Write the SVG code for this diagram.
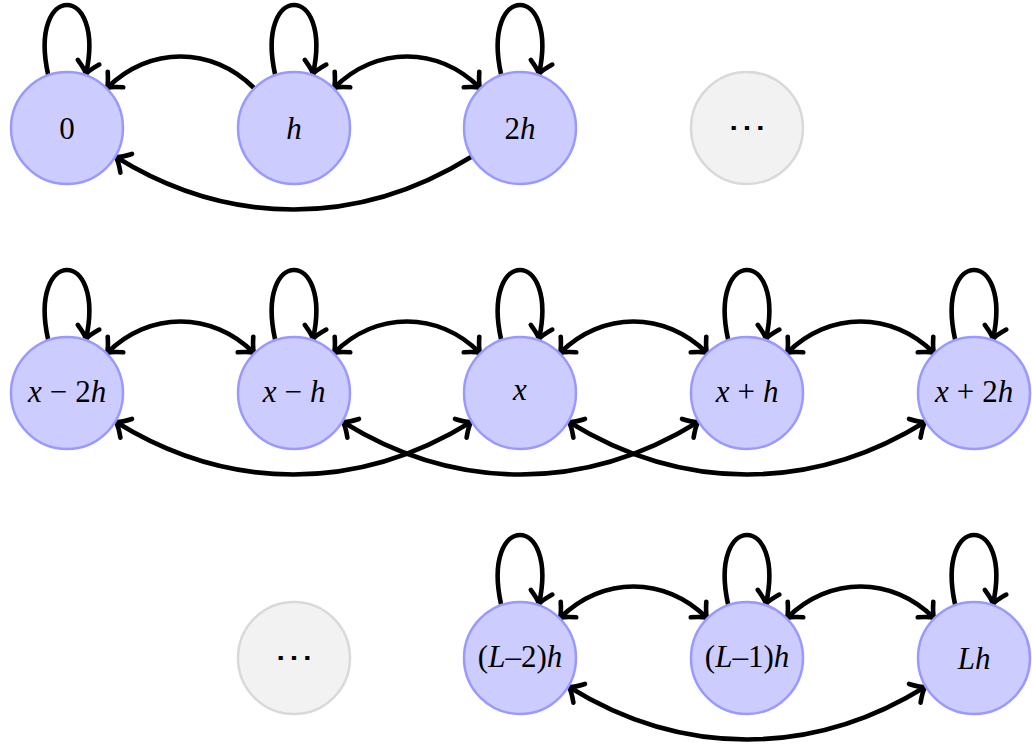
<svg xmlns="http://www.w3.org/2000/svg" width="1032" height="746" viewBox="0 0 1032 746">
<style>
.node{fill:#ccccff;stroke:#9999ff;stroke-width:2.5}
.gray{fill:#f2f2f2;stroke:#d9d9d9;stroke-width:2.5}
.lbl{font-family:"Liberation Serif","Times New Roman",serif;font-size:31px;fill:#000;text-anchor:middle}
.it{font-style:italic}
.dots{font-family:"DejaVu Serif",serif;font-size:32px;fill:#000;text-anchor:middle}
.e{fill:none;stroke:#000;stroke-width:4.6;stroke-linecap:round}
.one{marker-end:url(#arr)}
.two{marker-end:url(#arr);marker-start:url(#arr)}
</style>
<defs>
<marker id="arr" markerUnits="userSpaceOnUse" viewBox="-16 -16 20 32" refX="0" refY="0" markerWidth="20" markerHeight="32" orient="auto-start-reverse" overflow="visible">
<path d="M -12,-11 Q -4,-2 0,0 Q -4,2 -12,11" fill="none" stroke="#000" stroke-width="4.6" stroke-linecap="round" stroke-linejoin="round"/>
</marker>
</defs>
<g id="connectors">
<!-- row 1 -->
<path class="e one" d="M254,88 C212,46 149,46 107,88"/>
<path class="e two" d="M334,88 C376,46 438,46 480,88"/>
<path class="e one" d="M471,157 C358,227 229,227 116,157"/>
<path class="e one" d="M48,74 C28,-18 106,-18 86,74"/>
<path class="e one" d="M275,74 C255,-18 333,-18 313,74"/>
<path class="e one" d="M501,74 C481,-18 559,-18 539,74"/>
<!-- row 2 -->
<path class="e two" d="M107,353 C149,311 212,311 254,353"/>
<path class="e two" d="M334,353 C376,311 438,311 480,353"/>
<path class="e two" d="M560,353 C602,311 665,311 707,353"/>
<path class="e two" d="M787,353 C829,311 892,311 934,353"/>
<path class="e two" d="M116,422 C229,492 358,492 471,422"/>
<path class="e two" d="M343,422 C456,492 585,492 698,422"/>
<path class="e two" d="M569,422 C682,492 812,492 925,422"/>
<path class="e one" d="M48,339 C28,247 106,247 86,339"/>
<path class="e one" d="M275,339 C255,247 333,247 313,339"/>
<path class="e one" d="M501,339 C481,247 559,247 539,339"/>
<path class="e one" d="M728,339 C708,247 786,247 766,339"/>
<path class="e one" d="M955,339 C935,247 1013,247 993,339"/>
<!-- row 3 -->
<path class="e two" d="M560,618 C602,576 665,576 707,618"/>
<path class="e two" d="M787,618 C829,576 892,576 934,618"/>
<path class="e two" d="M569,687 C682,757 812,757 925,687"/>
<path class="e one" d="M501,604 C481,512 559,512 539,604"/>
<path class="e one" d="M728,604 C708,512 786,512 766,604"/>
<path class="e one" d="M955,604 C935,512 1013,512 993,604"/>
</g>
<g id="n0"><circle class="node" cx="67" cy="128" r="56"/><text class="lbl" x="67" y="139">0</text></g>
<g id="nh"><circle class="node" cx="294" cy="128" r="56"/><text class="lbl it" x="294" y="139">h</text></g>
<g id="n2h"><circle class="node" cx="520" cy="128" r="56"/><text class="lbl" x="520" y="139">2<tspan class="it">h</tspan></text></g>
<g id="ndots1"><circle class="gray" cx="747" cy="128" r="56"/><text class="dots" transform="translate(747,138) scale(1.25,1)" x="0" y="0">⋯</text></g>
<g id="nxm2h"><circle class="node" cx="67" cy="393" r="56"/><text class="lbl" x="67" y="402"><tspan class="it">x</tspan><tspan dx="8">−</tspan><tspan dx="8">2</tspan><tspan class="it">h</tspan></text></g>
<g id="nxmh"><circle class="node" cx="294" cy="393" r="56"/><text class="lbl" x="294" y="402"><tspan class="it">x</tspan><tspan dx="8">−</tspan><tspan class="it" dx="8">h</tspan></text></g>
<g id="nx"><circle class="node" cx="520" cy="393" r="56"/><text class="lbl it" x="520" y="400">x</text></g>
<g id="nxph"><circle class="node" cx="747" cy="393" r="56"/><text class="lbl" x="747" y="402"><tspan class="it">x</tspan><tspan dx="8">+</tspan><tspan class="it" dx="8">h</tspan></text></g>
<g id="nxp2h"><circle class="node" cx="974" cy="393" r="56"/><text class="lbl" x="974" y="402"><tspan class="it">x</tspan><tspan dx="8">+</tspan><tspan dx="8">2</tspan><tspan class="it">h</tspan></text></g>
<g id="ndots2"><circle class="gray" cx="294" cy="658" r="56"/><text class="dots" transform="translate(294,668) scale(1.25,1)" x="0" y="0">⋯</text></g>
<g id="nLm2h"><circle class="node" cx="520" cy="658" r="56"/><text class="lbl" x="520" y="667">(<tspan class="it">L</tspan>–2)<tspan class="it">h</tspan></text></g>
<g id="nLm1h"><circle class="node" cx="747" cy="658" r="56"/><text class="lbl" x="747" y="667">(<tspan class="it">L</tspan>–1)<tspan class="it">h</tspan></text></g>
<g id="nLh"><circle class="node" cx="974" cy="658" r="56"/><text class="lbl" x="974" y="669"><tspan class="it">L</tspan><tspan class="it">h</tspan></text></g>
</svg>
